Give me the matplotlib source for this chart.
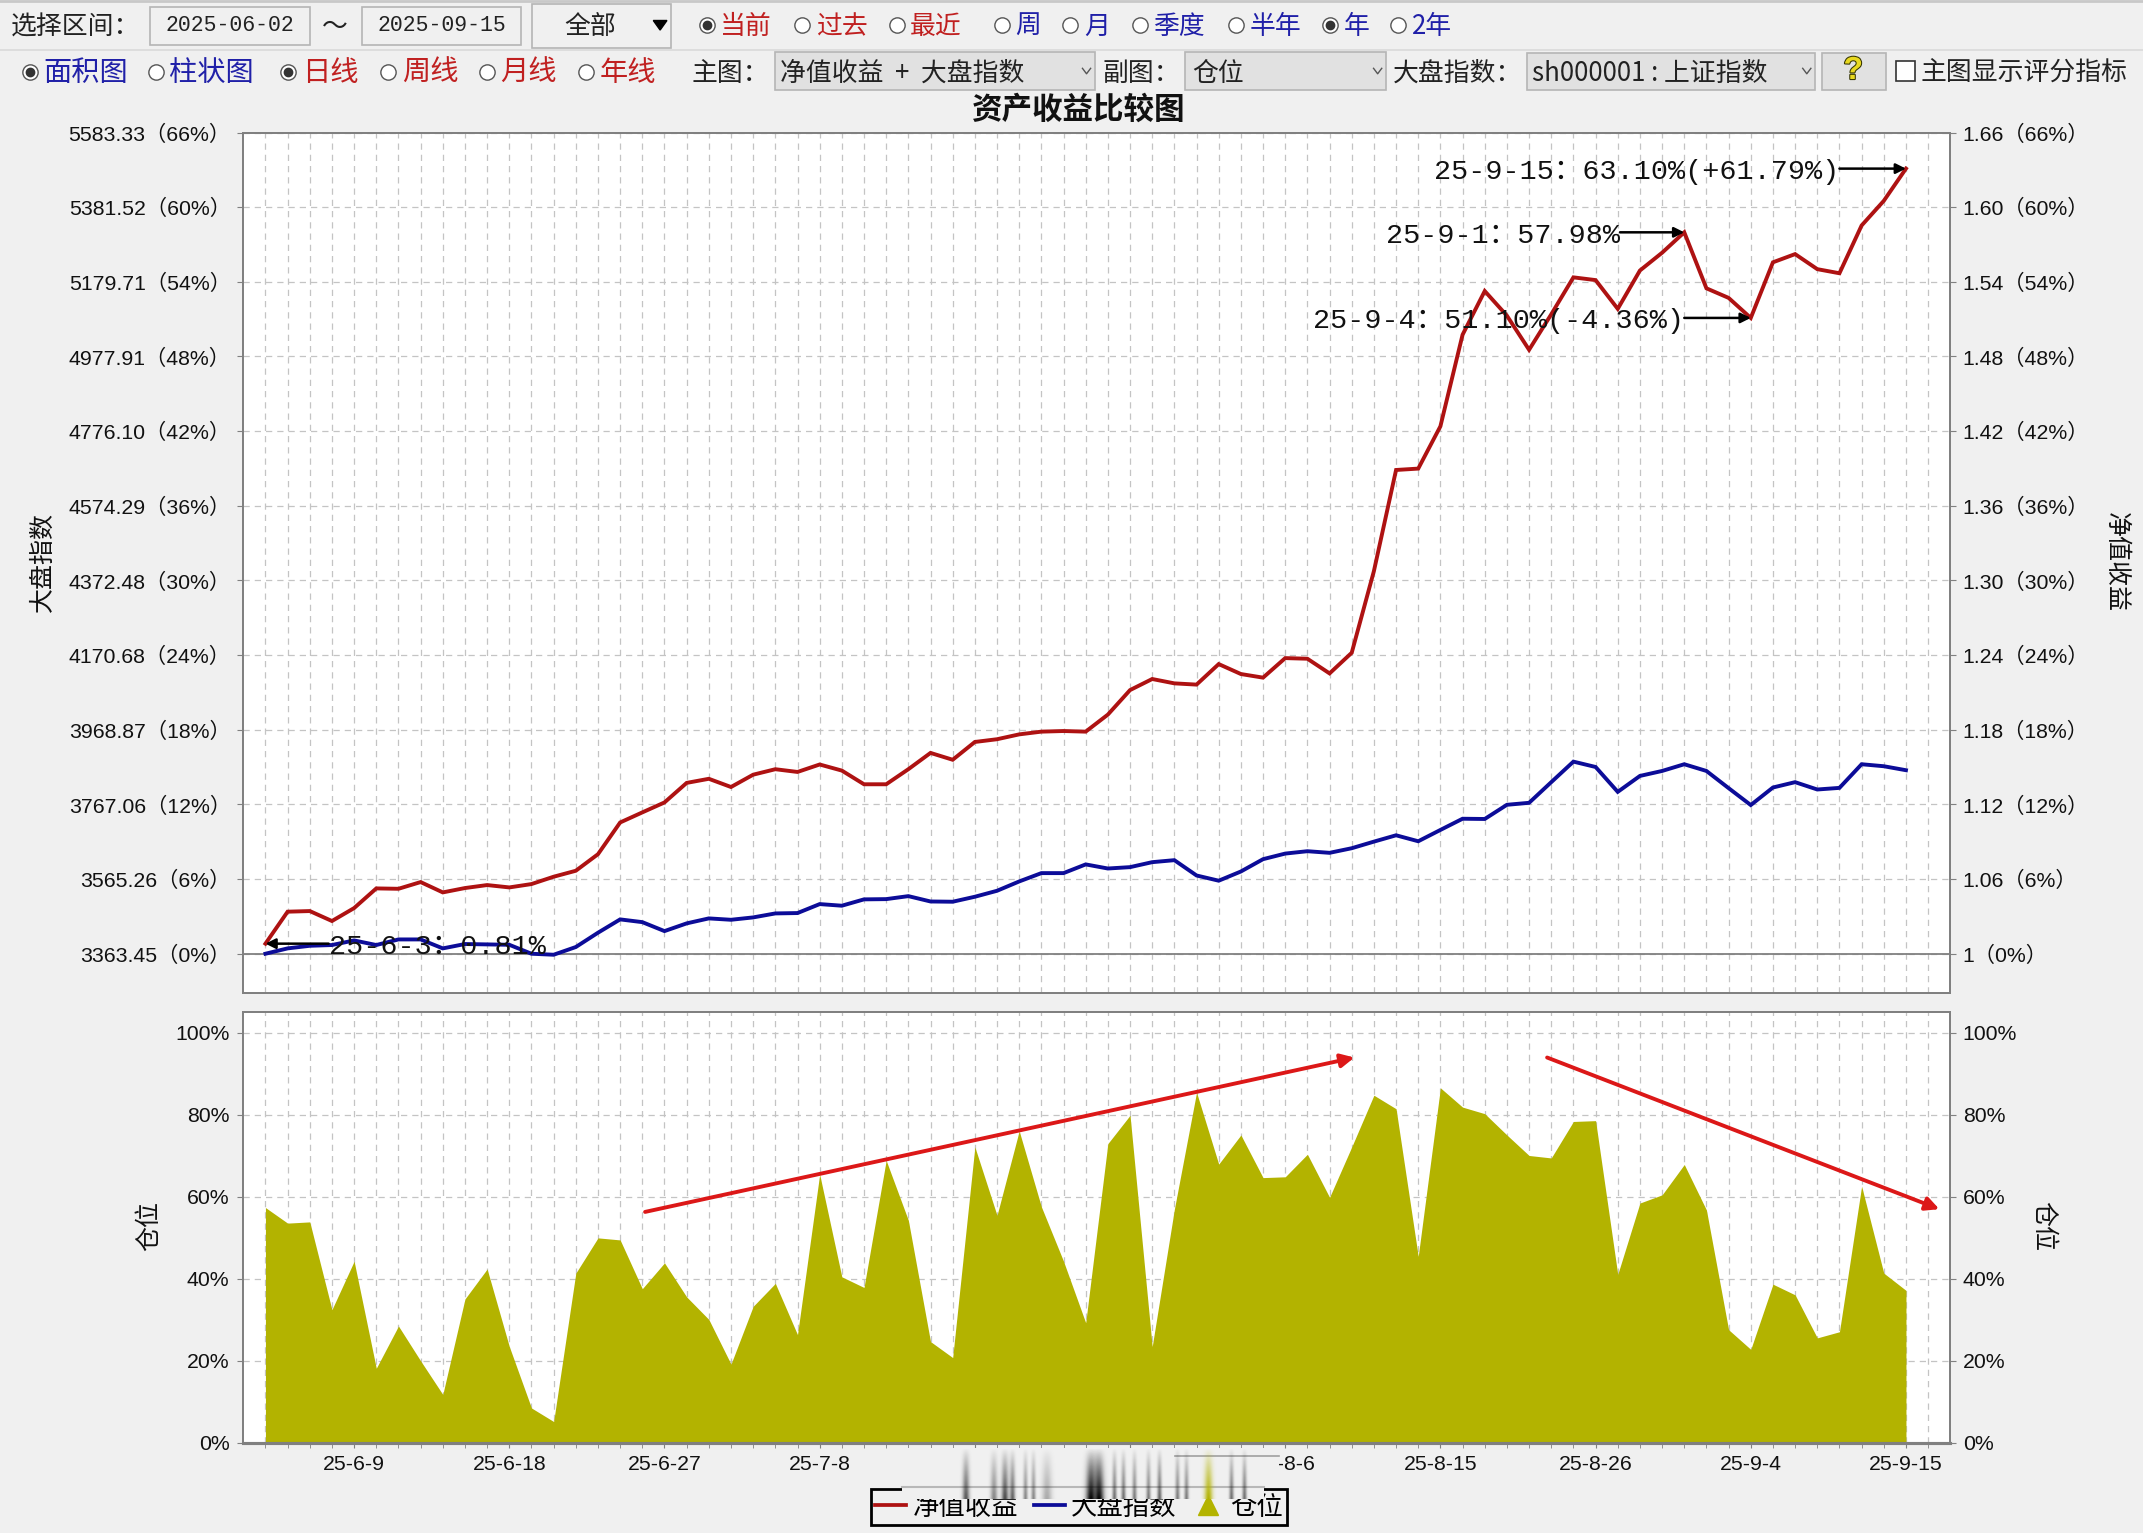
import matplotlib
matplotlib.use("Agg")
import matplotlib.pyplot as plt
import matplotlib.patheffects as pe
import numpy as np
from matplotlib.lines import Line2D
from matplotlib.patches import Rectangle, FancyArrowPatch, Polygon

CJK = ['Liberation Sans', 'Noto Sans CJK SC']
MONO = ['Liberation Mono', 'Noto Sans CJK SC']
UI = ['Noto Sans CJK SC', 'DejaVu Sans']
plt.rcParams['font.family'] = CJK

# ---------- data ----------
net_pct = [0.81, 3.38, 3.43, 2.63, 3.67, 5.25, 5.22, 5.76, 4.93, 5.28, 5.52, 5.33, 5.60, 6.19, 6.67,
           8.00, 10.55, 11.36, 12.16, 13.73, 14.06, 13.40, 14.39, 14.83, 14.61, 15.21, 14.72, 13.62,
           13.62, 14.83, 16.14, 15.59, 17.02, 17.24, 17.63, 17.85, 17.90, 17.85, 19.22, 21.19, 22.08,
           21.73, 21.63, 23.28, 22.48, 22.19, 23.76, 23.71, 22.53, 24.19, 30.75, 38.88, 38.99, 42.39,
           49.75, 53.26, 51.28, 48.54, 51.39, 54.36, 54.14, 51.83, 54.91, 56.34, 57.98, 53.48, 52.71,
           51.10, 55.57, 56.23, 55.02, 54.69, 58.53, 60.51, 63.10]
index_pct = [0.00, 0.43, 0.64, 0.70, 1.07, 0.70, 1.15, 1.15, 0.43, 0.78, 0.75, 0.72, 0.00, -0.08, 0.54,
             1.69, 2.76, 2.54, 1.82, 2.44, 2.84, 2.73, 2.92, 3.24, 3.27, 3.99, 3.86, 4.37, 4.39, 4.63,
             4.20, 4.18, 4.58, 5.06, 5.81, 6.48, 6.48, 7.18, 6.85, 6.96, 7.36, 7.52, 6.29, 5.87, 6.61,
             7.60, 8.05, 8.24, 8.11, 8.48, 9.01, 9.52, 9.04, 9.95, 10.85, 10.83, 11.97, 12.13, 13.79,
             15.44, 15.01, 13.01, 14.29, 14.69, 15.23, 14.69, 13.31, 11.95, 13.36, 13.79, 13.20, 13.33,
             15.23, 15.07, 14.75]
position = [57.4, 53.6, 53.9, 32.5, 44.3, 18.2, 28.5, 20.0, 11.8, 35.1, 42.4, 23.5, 8.5, 5.2, 41.4,
            50.0, 49.5, 37.6, 43.9, 35.6, 30.1, 19.2, 33.3, 38.9, 26.4, 65.5, 40.5, 37.9, 68.9, 54.3,
            24.7, 20.8, 72.2, 55.5, 76.1, 57.6, 44.3, 29.3, 73.0, 79.9, 23.5, 57.0, 85.5, 68.0, 75.1,
            64.7, 64.9, 70.4, 59.9, 72.2, 84.8, 81.5, 45.5, 86.6, 81.9, 80.3, 75.1, 70.1, 69.5, 78.4,
            78.6, 41.1, 58.5, 60.5, 67.9, 56.8, 27.6, 22.8, 38.7, 36.1, 25.6, 27.1, 62.6, 41.4, 37.2]
x_tick_idx = [4, 11, 18, 25, 32, 39, 46, 53, 60, 67, 74]
x_tick_labels = ['25-6-9', '25-6-18', '25-6-27', '25-7-8', '25-7-17', '25-7-28', '25-8-6',
                 '25-8-15', '25-8-26', '25-9-4', '25-9-15']
y_pct_ticks = [0, 6, 12, 18, 24, 30, 36, 42, 48, 54, 60, 66]
left_prices = ['3363.45', '3565.26', '3767.06', '3968.87', '4170.68', '4372.48', '4574.29',
               '4776.10', '4977.91', '5179.71', '5381.52', '5583.33']
right_values = ['1', '1.06', '1.12', '1.18', '1.24', '1.30', '1.36', '1.42', '1.48', '1.54', '1.60', '1.66']
pos_ticks = [0, 20, 40, 60, 80, 100]

RED, BLUE, OLIVE = '#AE1212', '#0C0C98', '#B3B300'
BG, SPINE, GRID = '#F0F0F0', '#808080', '#C4C4C4'
DASH = (0, (5, 4))
W, H = 2143, 1533
SW, SH = 1568, 1122


def axes_box(l, r, t, b):
    return [l / SW, 1 - b / SH, (r - l) / SW, (b - t) / SH]


fig = plt.figure(figsize=(W / 100, H / 100), dpi=100, facecolor=BG)
x = np.arange(len(net_pct))

# ---------- main panel ----------
ax = fig.add_axes(axes_box(178, 1427, 97, 727))
ax.set_xlim(-1, 76)
ax.set_ylim(-3.18, 66)
ax.set_xticks(np.arange(0, 76))
ax.tick_params(axis='x', length=0, labelbottom=False)
ax.grid(True, axis='both', ls=DASH, lw=0.9, color=GRID)
ax.set_axisbelow(True)
ax.axhline(0, color=SPINE, lw=1.3, zorder=1)
ax.plot(x, net_pct, color=RED, lw=2.8, zorder=3, solid_joinstyle='miter')
ax.plot(x, index_pct, color=BLUE, lw=2.8, zorder=3, solid_joinstyle='miter')
ax.set_yticks(y_pct_ticks)
ax.set_yticklabels([f'{p}（{t}%）' for p, t in zip(left_prices, y_pct_ticks)], fontsize=15.3, color='#111111')
ax.tick_params(axis='y', length=4, color=SPINE, pad=5)
rax = ax.twinx()
rax.set_ylim(ax.get_ylim())
rax.set_yticks(y_pct_ticks)
rax.set_yticklabels([f'{v}（{t}%）' for v, t in zip(right_values, y_pct_ticks)], fontsize=15.3, color='#111111')
rax.tick_params(axis='y', length=4, color=SPINE, pad=5)
for a in (ax, rax):
    for s in a.spines.values():
        s.set_color(SPINE)
        s.set_linewidth(1.3)

arrow_kw = dict(arrowstyle='-|>', color='black', lw=1.8, mutation_scale=15, shrinkA=0, shrinkB=0)
text_kw = dict(fontsize=20.5, family=MONO, color='#111111', va='center', zorder=6)
TEXT_DROP = 0.25
for idx, start, txt, ha in [(0, 2.85, '25-6-3：0.81%', 'left'),
                            (74, 71.0, '25-9-15：63.10%(+61.79%)', 'right'),
                            (64, 61.1, '25-9-1：57.98%', 'right'),
                            (67, 64.0, '25-9-4：51.10%(-4.36%)', 'right')]:
    ax.annotate('', xy=(idx, net_pct[idx]), xytext=(start, net_pct[idx]), arrowprops=arrow_kw, zorder=6)
    ax.text(start, net_pct[idx] - TEXT_DROP, txt, ha=ha, **text_kw)

# ---------- position panel ----------
ax2 = fig.add_axes(axes_box(178, 1427, 741, 1056))
ax2.set_xlim(-1, 76)
ax2.set_ylim(0, 105)
ax2.fill_between(x, position, 0, color=OLIVE, lw=0, zorder=2)
ax2.set_xticks(np.arange(0, 76), minor=True)
ax2.set_xticks(x_tick_idx)
ax2.set_xticklabels(x_tick_labels, fontsize=15.3, color='#111111')
ax2.tick_params(axis='x', which='both', length=3.5, color=SPINE, pad=5)
ax2.grid(True, axis='x', which='minor', ls=DASH, lw=0.9, color=GRID)
ax2.grid(True, axis='x', which='major', ls=DASH, lw=0.9, color=GRID)
ax2.grid(True, axis='y', ls=DASH, lw=0.9, color=GRID)
ax2.set_axisbelow(True)
ax2.set_yticks(pos_ticks)
ax2.set_yticklabels([f'{t}%' for t in pos_ticks], fontsize=15.3, color='#111111')
ax2.tick_params(axis='y', length=4, color=SPINE, pad=6)
rax2 = ax2.twinx()
rax2.set_ylim(ax2.get_ylim())
rax2.set_yticks(pos_ticks)
rax2.set_yticklabels([f'{t}%' for t in pos_ticks], fontsize=15.3, color='#111111')
rax2.tick_params(axis='y', length=4, color=SPINE, pad=5)
for a in (ax2, rax2):
    for s in a.spines.values():
        s.set_color(SPINE)
        s.set_linewidth(1.3)
    a.spines['bottom'].set_linewidth(2.2)

# ---------- legend ----------
handles = [Line2D([], [], color=RED, lw=2.7), Line2D([], [], color=BLUE, lw=2.7),
           Line2D([], [], color=OLIVE, ls='none', marker='^', ms=15)]
leg = fig.legend(handles, ['净值收益', '大盘指数', '仓位'], ncol=3, loc='center',
                 bbox_to_anchor=(789.5 / SW, 1 - 1103 / SH), frameon=True, fancybox=False,
                 edgecolor='black', facecolor=BG, framealpha=1, prop={'family': UI, 'size': 19},
                 handlelength=1.15, handletextpad=0.25, columnspacing=0.62, borderpad=0.18, borderaxespad=0)
leg.get_frame().set_linewidth(2)

# ---------- overlay in picture coordinates: toolbar, trend arrows, watermark ----------
ov = fig.add_axes([0, 0, 1, 1], zorder=10)
ov.set_xlim(0, SW)
ov.set_ylim(SH, 0)
ov.axis('off')
ov.patch.set_alpha(0)


def label(px, py, s, c='#222222', size=18.6, ha='left', fam=UI, **kw):
    ov.text(px, py, s, color=c, fontsize=size, ha=ha, va='center', family=fam, **kw)


def box(x0, y0, x1, y1, fc=BG, ec='#B5B5B5', lw=1.2):
    ov.add_patch(Rectangle((x0, y0), x1 - x0, y1 - y0, fc=fc, ec=ec, lw=lw))


def radio(px, py, s, c, on=False, size=18.6):
    ov.plot([px], [py - 1], 'o', ms=11, mfc='white', mec='#555555', mew=1)
    if on:
        ov.plot([px], [py - 1], 'o', ms=6, color='#333333')
    label(px + 10, py, s, c, size)


def chevron(px, py):
    ov.plot([px - 3, px, px + 3], [py - 2, py + 2, py - 2], color='#555555', lw=1)


ROW1, ROW2 = 19.5, 53.5
ov.plot([0, SW], [0.5, 0.5], color='#C8C8C8', lw=2)
ov.plot([0, SW], [36.5, 36.5], color='#DADADA', lw=1.2)
label(8, ROW1, '选择区间：')
box(110, 5, 227, 33)
label(168, ROW1 - 1, '2025-06-02', ha='center', size=15.5, fam=MONO)
label(245, ROW1, '～', ha='center')
box(265, 5, 381, 33)
label(323, ROW1 - 1, '2025-09-15', ha='center', size=15.5, fam=MONO)
box(389, 3, 491, 35)
label(432, ROW1, '全部', ha='center')
ov.add_patch(Polygon([[478, 15], [488, 15], [483, 22]], color='black'))
R1, B1 = '#C02020', '#2020A8'
for px, s, c, on in [(517, '当前', R1, True), (587, '过去', R1, False), (656, '最近', R1, False),
                     (733, '周', B1, False), (783, '月', B1, False), (834, '季度', B1, False),
                     (904, '半年', B1, False), (973, '年', B1, True), (1023, '2年', B1, False)]:
    radio(px, ROW1, s, c, on)
for px, s, c, on in [(22, '面积图', B1, True), (114, '柱状图', B1, False), (211, '日线', R1, True),
                     (284, '周线', R1, False), (356, '月线', R1, False), (429, '年线', R1, False)]:
    radio(px, ROW2, s, c, on, size=20.3)
label(506, ROW2, '主图：')
box(567, 38, 801, 66, fc='#E1E1E1')
label(571, ROW2, '净值收益  +  大盘指数')
chevron(795, 52)
label(807, ROW2, '副图：')
box(867, 38, 1014, 66, fc='#E1E1E1')
label(872, ROW2, '仓位')
chevron(1008, 52)
label(1019, ROW2, '大盘指数：')
box(1117, 39, 1328, 66, fc='#E1E1E1')
label(1121, ROW2, 'sh000001 : 上证指数')
chevron(1322, 52)
box(1333, 39, 1380, 66, fc='#E1E1E1')
ov.text(1356, 52, '?', color='#E8D820', fontsize=23, fontweight='bold', ha='center', va='center',
        path_effects=[pe.withStroke(linewidth=1.5, foreground='#333300')])
box(1387, 45, 1401, 59, fc='white', ec='#333333')
label(1405, ROW2, '主图显示评分指标')

label(789.5, 80, '资产收益比较图', '#111111', 22, ha='center', fontweight='bold')
label(31, 411, '大盘指数', '#111111', 18, ha='center', rotation=90)
label(1548, 411, '净值收益', '#111111', 18, ha='center', rotation=-90)
label(109, 897, '仓位', '#111111', 18, ha='center', rotation=90)
label(1495, 897, '仓位', '#111111', 18, ha='center', rotation=-90)

for p0, p1 in [((472, 887), (991, 774)), ((1132, 774), (1419, 885))]:
    ov.add_patch(FancyArrowPatch(p0, p1, arrowstyle='-|>', color='#DC1818', lw=2.8, mutation_scale=20,
                                 shrinkA=0, shrinkB=0, zorder=8))

# watermark: soft patch over the labels and legend top, then blurred vertical streaks
ov.add_patch(Rectangle((660, 1060), 276, 28, fc=BG, ec='none', zorder=7))
ov.add_patch(Rectangle((660, 1088), 265, 9, fc=BG, ec='none', zorder=7))
ov.plot([660, 925], [1088, 1088], color='#B8B8B8', lw=1.5, zorder=7)
ov.plot([860, 936], [1066, 1066], color='#A0A0A0', lw=1.2, zorder=7)
ramp = np.linspace(0, 1, 60).reshape(-1, 1)
across = np.exp(-np.linspace(-2, 2, 15) ** 2).reshape(1, -1)
streaks = [(707, 5, .65, 'k'), (727, 5, .45, 'k'), (735, 5, .70, 'k'), (741, 4, .60, 'k'), (750, 3, .45, 'k'),
           (756, 3, .45, 'k'), (766, 7, .30, 'k'), (798, 7, 1.0, 'k'), (804, 7, 1.0, 'k'), (815, 3, .55, 'k'),
           (822, 3, .55, 'k'), (830, 3, .50, 'k'), (840, 3, .50, 'k'), (848, 3, .60, 'k'), (861, 3, .50, 'k'),
           (868, 3, .50, 'k'), (884, 6, 1.0, OLIVE), (901, 3, .55, 'k'), (910, 3, .55, 'k')]
for sx, sw, alpha, col in streaks:
    rgba = np.zeros((60, 15, 4))
    rgba[..., :3] = matplotlib.colors.to_rgb(col)
    rgba[..., 3] = alpha * (ramp ** 0.9) @ across
    ov.imshow(rgba, extent=(sx - sw, sx + sw, 1097, 1060), aspect='auto', zorder=9, interpolation='bilinear')
ov.set_xlim(0, SW)
ov.set_ylim(SH, 0)

fig.savefig('out.png', dpi=100, facecolor=BG)
